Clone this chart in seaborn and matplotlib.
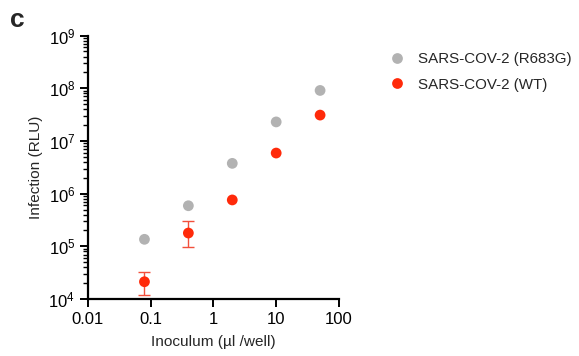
import numpy as np
import pandas as pd
import matplotlib
matplotlib.use("Agg")
import matplotlib.pyplot as plt
from matplotlib.ticker import LogLocator, FixedLocator, FixedFormatter, NullLocator
import seaborn as sns

# Inoculum volumes (µl / well)
inoculum = [0.08, 0.4, 2, 10, 50]

# Infection signal (RLU)
mutant_rlu = [1.36e5, 5.9e5, 3.76e6, 2.3e7, 9.1e7]
wt_rlu = [2.13e4, 1.79e5, 7.6e5, 5.9e6, 3.1e7]
# WT error range (nan where the bar is hidden behind the marker)
wt_err_low = [1.19e4, 9.7e4, np.nan, np.nan, np.nan]
wt_err_high = [3.3e4, 3.0e5, np.nan, np.nan, np.nan]

series_names = ["SARS-COV-2 (R683G)", "SARS-COV-2 (WT)"]
colors = {"SARS-COV-2 (R683G)": "#B2B2B2", "SARS-COV-2 (WT)": "#FF2A0A"}

df = pd.DataFrame({
    "inoculum": inoculum * 2,
    "rlu": mutant_rlu + wt_rlu,
    "virus": [series_names[0]] * len(inoculum) + [series_names[1]] * len(inoculum),
})

sns.set_style("white")
plt.rcParams["font.family"] = ["Liberation Sans", "DejaVu Sans"]

fig = plt.figure(figsize=(5.79, 3.56), dpi=100)
ax = fig.add_axes([0.1515, 0.160, 0.434, 0.740])

# WT error bars, only where a range is given
lo = np.array(wt_err_low)
hi = np.array(wt_err_high)
has_err = ~np.isnan(lo)
x_err = np.array(inoculum)[has_err]
y_err = np.array(wt_rlu)[has_err]
yerr = np.vstack([y_err - lo[has_err], hi[has_err] - y_err])
ax.errorbar(x_err, y_err, yerr=yerr, fmt="none", ecolor="#F2503C",
            elinewidth=1.0, capsize=4, capthick=1.0, zorder=2)

sns.scatterplot(data=df, x="inoculum", y="rlu", hue="virus", palette=colors,
                hue_order=series_names, s=60, edgecolor="none", ax=ax, zorder=3)

ax.set_xscale("log")
ax.set_yscale("log")
ax.set_xlim(0.01, 100)
ax.set_ylim(1e4, 1e9)

ax.xaxis.set_major_locator(FixedLocator([0.01, 0.1, 1, 10, 100]))
ax.xaxis.set_major_formatter(FixedFormatter(["0.01", "0.1", "1", "10", "100"]))
ax.xaxis.set_minor_locator(NullLocator())
ax.yaxis.set_major_locator(LogLocator(base=10, numticks=10))
ax.yaxis.set_minor_locator(LogLocator(base=10, subs=np.arange(2, 10), numticks=20))

for side in ["top", "right"]:
    ax.spines[side].set_visible(False)
for side in ["left", "bottom"]:
    ax.spines[side].set_linewidth(1.6)
    ax.spines[side].set_color("black")

ax.tick_params(axis="both", which="major", direction="out", length=6, width=1.4,
               labelsize=12, colors="black", bottom=True, left=True, pad=3)
ax.tick_params(axis="y", which="minor", direction="out", length=3.5, width=1.0,
               left=True, colors="black")

ax.set_xlabel("Inoculum (µl /well)", fontsize=11.1, labelpad=6)
ax.set_ylabel("Infection (RLU)", fontsize=11.1, labelpad=4)

handles, labels = ax.get_legend_handles_labels()
ax.legend(handles, labels, loc="upper left", bbox_to_anchor=(0.636, 0.891),
          bbox_transform=fig.transFigure, frameon=False, fontsize=10.9,
          handletextpad=0.4, labelspacing=0.75, markerscale=1.0)

fig.text(0.017, 0.924, "c", fontsize=19, fontweight="bold", va="baseline")

fig.savefig("out.png", dpi=100)
